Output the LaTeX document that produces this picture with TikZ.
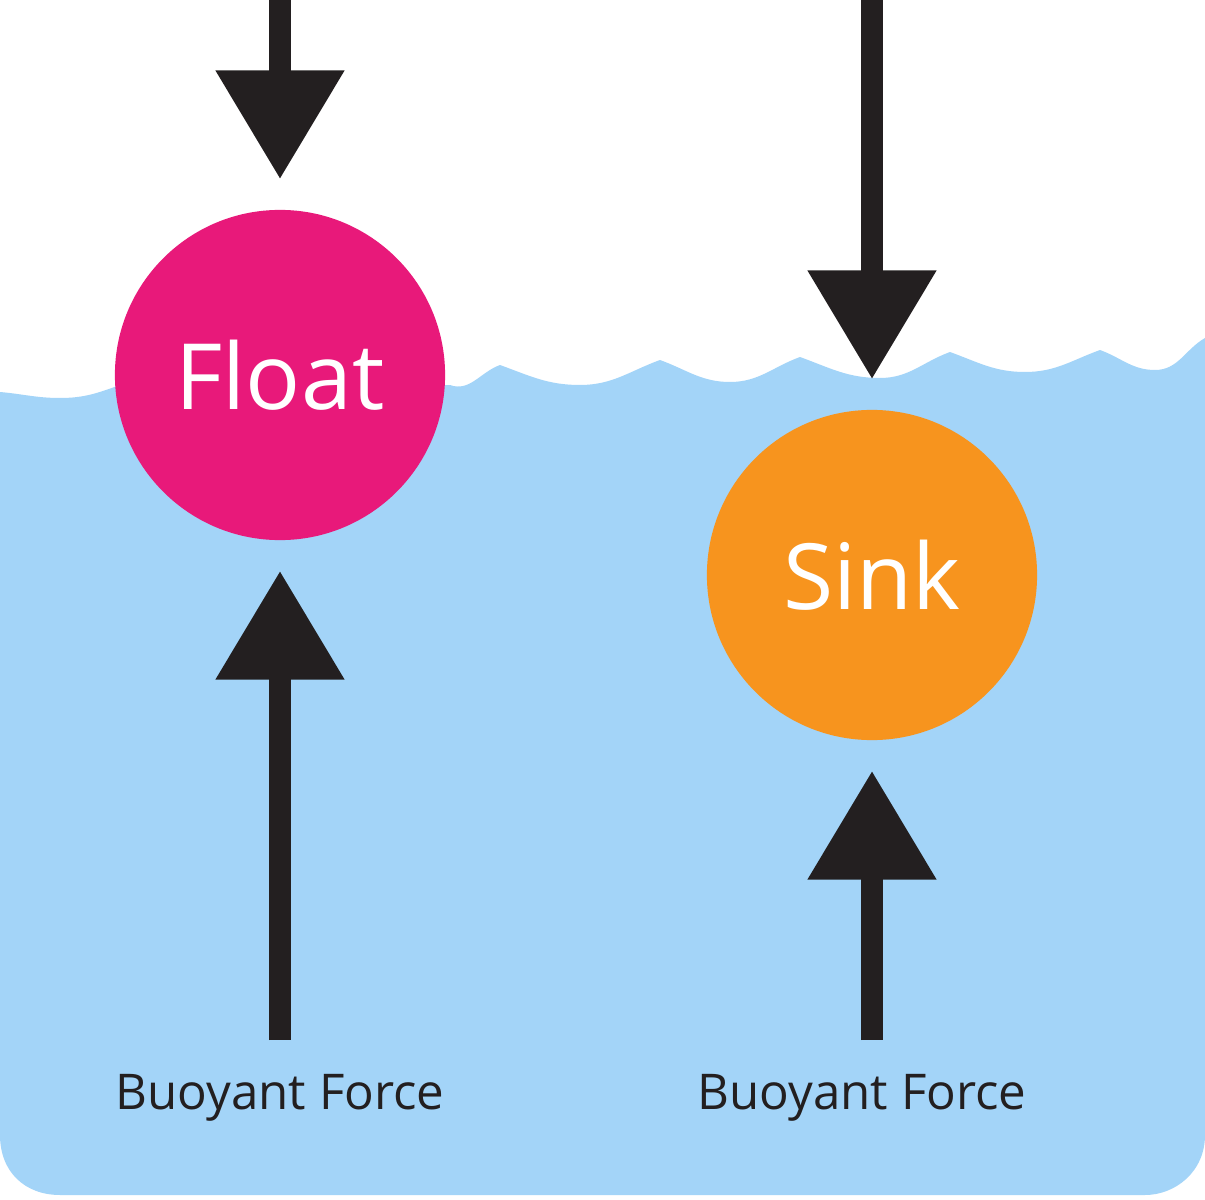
\documentclass[tikz,border=0pt]{standalone}
\usepackage{fontspec}
\setmainfont{Open Sans}
\usetikzlibrary{arrows.meta}
\definecolor{water}{HTML}{A3D4F8}
\definecolor{floatc}{HTML}{E8197A}
\definecolor{sinkc}{HTML}{F7941E}
\definecolor{arr}{HTML}{231F20}
\tikzset{
  ball/.style={circle,minimum size=3.3cm,inner sep=0pt,text=white,font=\fontsize{26}{30}\selectfont},
  force/.style={draw=arr,line width=6.3pt,-{Triangle[width=35pt,length=31pt]}},
  lbl/.style={text=arr,font=\fontsize{14}{16}\selectfont}
}
\begin{document}
\begin{tikzpicture}[x=0.01cm,y=-0.01cm]
\useasboundingbox (0,0) rectangle (1205,1200);
\fill[white] (0,0) rectangle (1205,1200);
\fill[water] (0,392) to[out=-5,in=180] (60,398) to[out=0,in=-160] (120,385) -- (450,385)
 to[out=-20,in=-160] (500,365) to[out=-20,in=180] (580,385) to[out=0,in=-160] (660,360)
 to[out=-20,in=180] (730,382) to[out=0,in=-160] (800,357) to[out=-20,in=180] (880,378)
 to[out=0,in=-160] (950,352) to[out=-20,in=180] (1025,372) to[out=0,in=-160] (1100,350)
 to[out=-20,in=180] (1155,370) to[out=0,in=-150] (1205,338)
 -- (1205,1135) .. controls (1205,1172) and (1175,1195) .. (1145,1195) -- (60,1195)
 .. controls (25,1195) and (0,1172) .. (0,1135) -- cycle;
\node[ball,fill=floatc] (float) at (280,375) {Float};
\node[ball,fill=sinkc] (sink) at (872,575) {Sink};
\coordinate (t1) at (280,0);
\coordinate (t2) at (872,0);
\coordinate (b1) at (280,1040);
\coordinate (b2) at (872,1040);
\draw[force,shorten >=30pt*0+8.5pt] (t1) -- (float);
\draw[force,shorten >=8.5pt] (t2) -- (sink);
\draw[force,shorten >=8.5pt] (b1) -- (float);
\draw[force,shorten >=8.5pt] (b2) -- (sink);
\node[lbl] (l1) at (280,1098) {Buoyant Force};
\node[lbl] (l2) at (862,1098) {Buoyant Force};
\end{tikzpicture}
\end{document}
